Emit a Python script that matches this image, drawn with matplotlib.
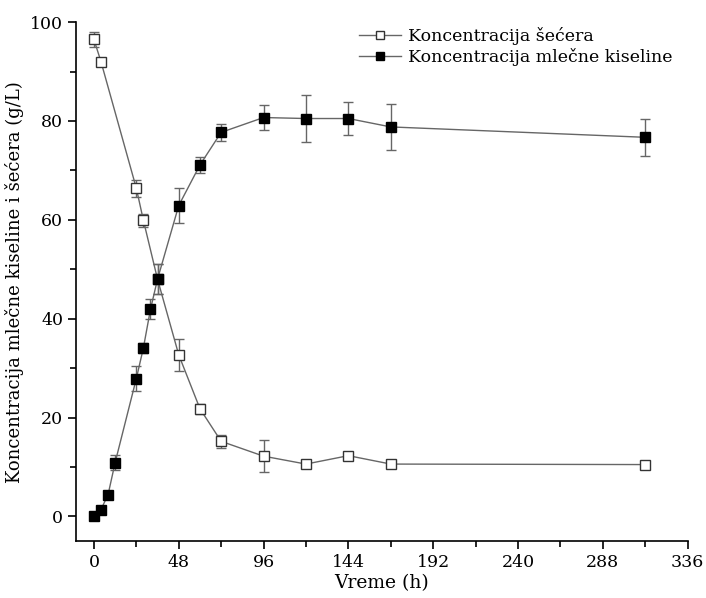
import matplotlib
matplotlib.use("Agg")
import matplotlib.pyplot as plt
from matplotlib.lines import Line2D
from matplotlib.ticker import MultipleLocator

# vreme uzorkovanja (h)
t_secer = [0, 4, 24, 28, 36, 48, 60, 72, 96, 120, 144, 168, 312]
secer = [96.5, 92.0, 66.4, 59.9, 48.0, 32.7, 21.8, 15.2, 12.2, 10.6, 12.3, 10.6, 10.5]
secer_err = [1.6, 0.7, 1.7, 1.3, 3.0, 3.3, 1.0, 1.3, 3.2, 0.5, 0.6, 0.4, 0.4]

t_mk = [0, 4, 8, 12, 24, 28, 32, 36, 48, 60, 72, 96, 120, 144, 168, 312]
mlecna = [0.0, 1.4, 4.4, 10.9, 27.9, 34.1, 41.9, 48.0, 62.9, 71.1, 77.7, 80.7, 80.5, 80.5, 78.8, 76.7]
mlecna_err = [0.3, 0.4, 0.5, 1.5, 2.5, 1.0, 2.0, 3.0, 3.6, 1.7, 1.7, 2.5, 4.7, 3.4, 4.7, 3.8]

plt.rcParams['font.family'] = ['DejaVu Serif']

fig = plt.figure(figsize=(7.06, 5.98), dpi=100)
ax = fig.add_axes([0.108, 0.095, 0.866, 0.868])

siva = '#666666'
stil = dict(color=siva, lw=1, ecolor=siva, elinewidth=1, capsize=3.5, capthick=1,
            marker='s', markersize=6.5, markeredgewidth=1)
ax.errorbar(t_secer, secer, yerr=secer_err, markerfacecolor='white',
            markeredgecolor='#333333', zorder=3, **stil)
ax.errorbar(t_mk, mlecna, yerr=mlecna_err, markerfacecolor='black',
            markeredgecolor='black', zorder=4, **stil)

ax.set_xlim(-10, 336)
ax.set_ylim(-5, 100)
ax.xaxis.set_major_locator(MultipleLocator(48))
ax.xaxis.set_minor_locator(MultipleLocator(24))
ax.yaxis.set_major_locator(MultipleLocator(20))
ax.yaxis.set_minor_locator(MultipleLocator(10))
ax.tick_params(which='major', direction='out', length=6, width=1.2, labelsize=12.5)
ax.tick_params(which='minor', direction='out', length=4, width=1.2)
for s in ['top', 'right']:
    ax.spines[s].set_visible(False)
for s in ['left', 'bottom']:
    ax.spines[s].set_linewidth(1.2)

ax.set_xlabel('Vreme (h)', fontsize=13.5, labelpad=2)
ax.set_ylabel('Koncentracija mlečne kiseline i šećera (g/L)', fontsize=13, labelpad=4)

ruke = [
    Line2D([], [], color=siva, lw=1, marker='s', markersize=6, markerfacecolor='white',
           markeredgecolor='#333333'),
    Line2D([], [], color=siva, lw=1, marker='s', markersize=6, markerfacecolor='black',
           markeredgecolor='black'),
]
ax.legend(ruke, ['Koncentracija šećera', 'Koncentracija mlečne kiseline'],
          loc='upper right', bbox_to_anchor=(1.0, 1.02), frameon=False, fontsize=12.5,
          handlelength=2.4, handletextpad=0.4, labelspacing=0.15)

fig.savefig('out.png', dpi=100)
